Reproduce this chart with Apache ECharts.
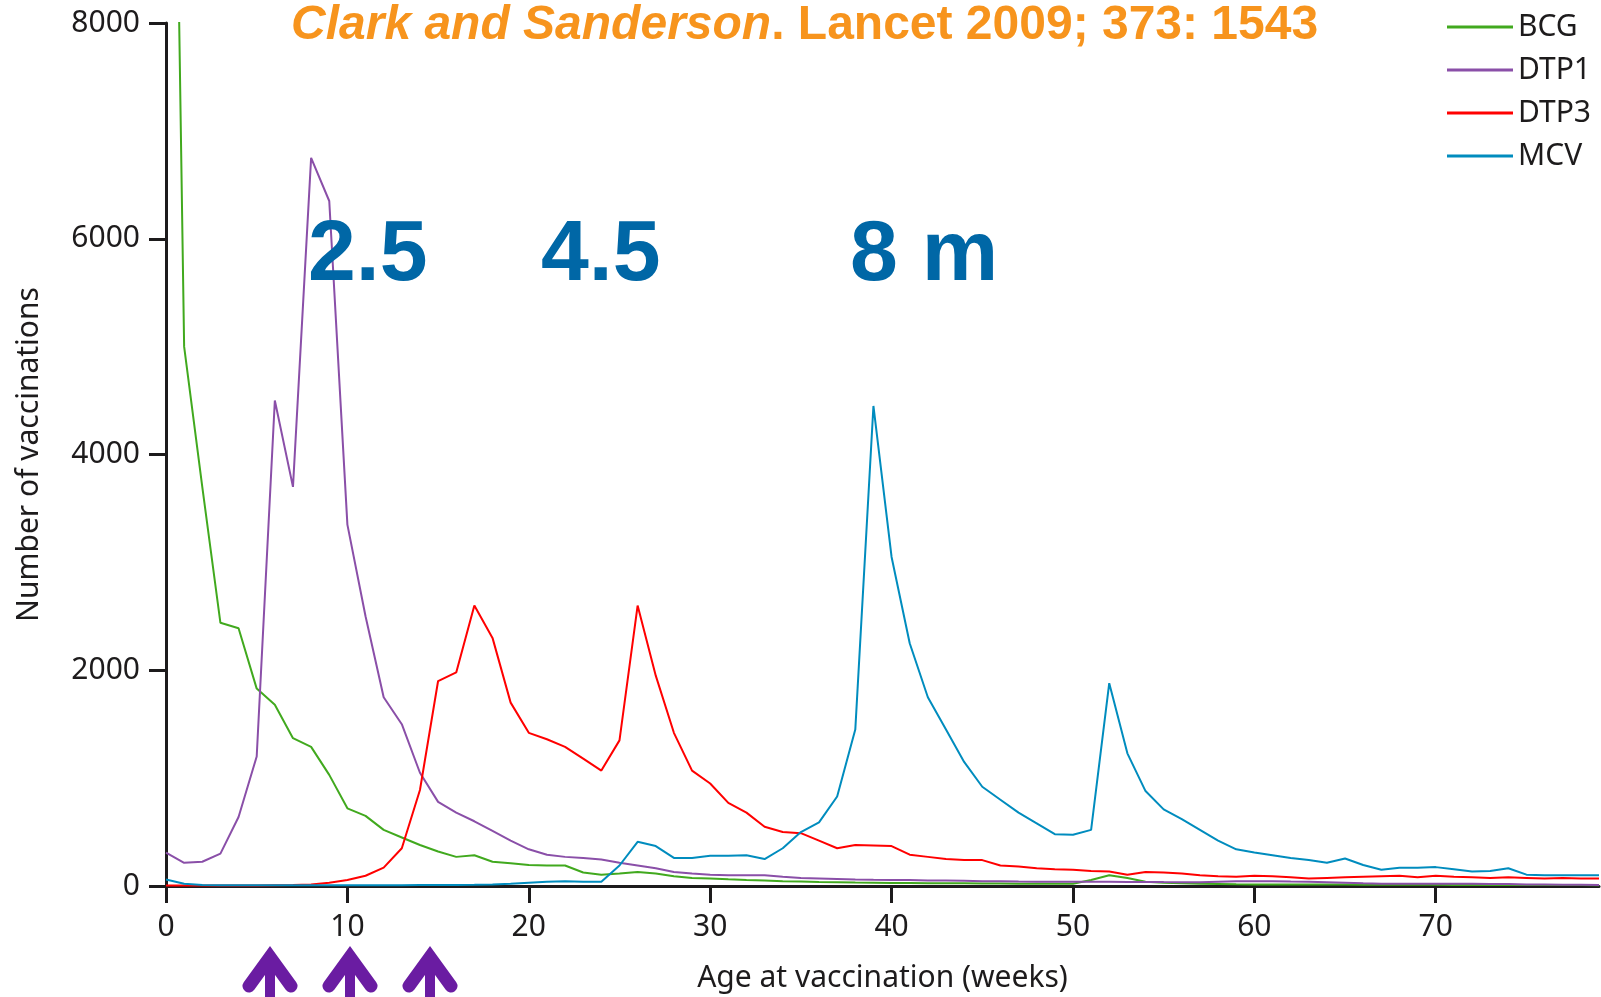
<!DOCTYPE html>
<html>
<head>
<meta charset="utf-8">
<script src="https://cdn.jsdelivr.net/npm/echarts@6/dist/echarts.min.js"></script>
<style>
  html, body { margin: 0; padding: 0; background: #ffffff; }
  #chart { width: 1601px; height: 997px; }
</style>
</head>
<body>
<div id="chart"></div>
<script>
// Weekly counts of vaccinations by age (weeks 0..79)
const seriesNames = ['BCG', 'DTP1', 'DTP3', 'MCV'];

const bcg = [16000, 5000, 3700, 2440, 2390, 1830, 1680, 1370, 1290, 1030,
             720, 650, 520, 450, 380, 320, 270, 285, 225, 210,
             195, 190, 190, 125, 105, 115, 130, 115, 90, 75,
             70, 62, 55, 50, 45, 42, 38, 35, 32, 30,
             28, 27, 26, 25, 25, 24, 23, 22, 22, 21,
             20, 55, 100, 75, 40, 30, 25, 20, 18, 16,
             15, 15, 14, 14, 13, 13, 12, 12, 12, 11,
             11, 10, 10, 10, 10, 10, 9, 9, 9, 8];

const dtp1 = [310, 215, 225, 300, 640, 1200, 4500, 3700, 6750, 6350,
              3350, 2500, 1750, 1500, 1050, 780, 680, 600, 510, 420,
              340, 290, 270, 260, 245, 215, 190, 165, 130, 115,
              105, 100, 100, 100, 85, 75, 70, 65, 60, 57,
              55, 55, 50, 50, 48, 45, 45, 42, 40, 40,
              40, 40, 40, 38, 38, 36, 35, 35, 40, 45,
              45, 45, 42, 40, 35, 30, 25, 22, 20, 20,
              20, 20, 20, 18, 18, 15, 15, 12, 12, 10];

const dtp3 = [5, 5, 5, 5, 5, 5, 8, 10, 15, 30,
              55, 95, 170, 350, 890, 1900, 1980, 2600, 2300, 1700,
              1420, 1360, 1290, 1180, 1070, 1350, 2600, 1950, 1420, 1070,
              950, 770, 680, 550, 500, 490, 420, 350, 380, 375,
              370, 290, 270, 250, 240, 240, 190, 180, 165, 155,
              150, 140, 135, 105, 130, 125, 115, 100, 90, 85,
              95, 90, 80, 70, 75, 80, 85, 90, 95, 80,
              95, 85, 80, 75, 80, 75, 70, 75, 70, 70];

const mcv = [60, 20, 10, 8, 8, 8, 8, 8, 8, 8,
             8, 8, 8, 8, 10, 10, 10, 12, 15, 20,
             30, 40, 45, 40, 40, 190, 410, 370, 260, 260,
             280, 280, 285, 250, 350, 500, 590, 830, 1450, 4450,
             3050, 2250, 1750, 1450, 1150, 920, 800, 680, 580, 480,
             475, 520, 1880, 1230, 880, 710, 620, 520, 420, 340,
             310, 285, 260, 240, 215, 255, 195, 150, 170, 170,
             175, 155, 135, 140, 165, 105, 100, 100, 100, 100];

const seriesValues = [bcg, dtp1, dtp3, mcv];
const seriesColors = ['#41A91E', '#8A4FA8', '#FF0000', '#008CBE'];

const xTicks = [0, 10, 20, 30, 40, 50, 60, 70];
const yTicks = [0, 2000, 4000, 6000, 8000];

const doseLabels = ['2.5', '4.5', '8 m'];
const citationAuthors = 'Clark and Sanderson';
const citationSource = '. Lancet 2009; 373: 1543';

const chart = echarts.init(document.getElementById('chart'), null, { renderer: 'canvas' });

const labelFont = '"Noto Sans", "DejaVu Sans", sans-serif';
const ink = '#1d1b1c';

// line series, one per vaccine, x = week index
const series = seriesNames.map((name, k) => ({
  name: name,
  type: 'line',
  data: seriesValues[k].map((v, i) => [i, v]),
  showSymbol: false,
  symbol: 'none',
  clip: true,
  color: seriesColors[k],
  lineStyle: { width: 2, color: seriesColors[k] },
  z: 2 + k
}));

// schedule arrows below the axis
function arrow(cx) {
  return [
    {
      type: 'polyline',
      shape: { points: [[cx - 21, 986], [cx, 957], [cx + 21, 986]] },
      style: { stroke: '#6A1CA2', lineWidth: 13, lineCap: 'round', lineJoin: 'miter', fill: null },
      z: 10
    },
    {
      type: 'line',
      shape: { x1: cx, y1: 965, x2: cx, y2: 1010 },
      style: { stroke: '#6A1CA2', lineWidth: 10 },
      z: 10
    }
  ];
}

const doseX = [308, 541, 850];
const graphics = [];
doseLabels.forEach((t, i) => {
  graphics.push({
    type: 'text',
    x: doseX[i],
    y: 256,
    z: 20,
    style: {
      text: t,
      fill: '#0067A6',
      fontSize: 86,
      fontWeight: 'bold',
      fontFamily: '"Liberation Sans", Arial, sans-serif',
      align: 'left',
      verticalAlign: 'middle'
    }
  });
});
[270, 350, 430].forEach(cx => graphics.push(...arrow(cx)));

const option = {
  animation: false,
  backgroundColor: '#ffffff',
  title: {
    text: '{i|' + citationAuthors + '}{n|' + citationSource + '}',
    left: 291,
    top: 2,
    padding: 0,
    textStyle: {
      rich: {
        i: { fontFamily: '"Liberation Sans", Arial, sans-serif', fontSize: 48, fontWeight: 'bold', fontStyle: 'italic', color: '#F7941D', lineHeight: 48 },
        n: { fontFamily: '"Liberation Sans", Arial, sans-serif', fontSize: 48, fontWeight: 'bold', color: '#F7941D', lineHeight: 48 }
      }
    }
  },
  legend: {
    data: seriesNames,
    orient: 'vertical',
    left: 1447,
    top: 12,
    padding: 0,
    icon: 'rect',
    itemWidth: 66,
    itemHeight: 3,
    itemGap: 13,
    textStyle: { fontFamily: labelFont, fontSize: 30, color: ink, lineHeight: 30 }
  },
  grid: {
    left: 166,
    right: 2,
    top: 23,
    bottom: 111,
    containLabel: false,
    outerBoundsMode: 'none'
  },
  xAxis: {
    type: 'value',
    min: 0,
    max: 79,
    interval: 10,
    name: 'Age at vaccination (weeks)',
    nameLocation: 'middle',
    nameGap: 77,
    nameTextStyle: { fontFamily: labelFont, fontSize: 30, color: ink },
    axisLine: { show: true, onZero: false, lineStyle: { color: ink, width: 3 } },
    axisTick: { show: true, length: 17, customValues: xTicks, lineStyle: { color: ink, width: 3 } },
    axisLabel: { customValues: xTicks, margin: 26, fontFamily: labelFont, fontSize: 30, color: ink, formatter: v => String(v) },
    splitLine: { show: false }
  },
  yAxis: {
    type: 'value',
    min: 0,
    max: 8000,
    interval: 2000,
    name: 'Number of vaccinations',
    nameLocation: 'middle',
    nameGap: 122,
    nameTextStyle: { fontFamily: labelFont, fontSize: 30, color: ink },
    axisLine: { show: true, lineStyle: { color: ink, width: 3 } },
    axisTick: { show: true, length: 17, customValues: yTicks, lineStyle: { color: ink, width: 3 } },
    axisLabel: { customValues: yTicks, margin: 26, fontFamily: labelFont, fontSize: 30, color: ink, formatter: v => String(v) },
    splitLine: { show: false }
  },
  series: series,
  graphic: graphics
};

chart.setOption(option);
</script>
</body>
</html>
